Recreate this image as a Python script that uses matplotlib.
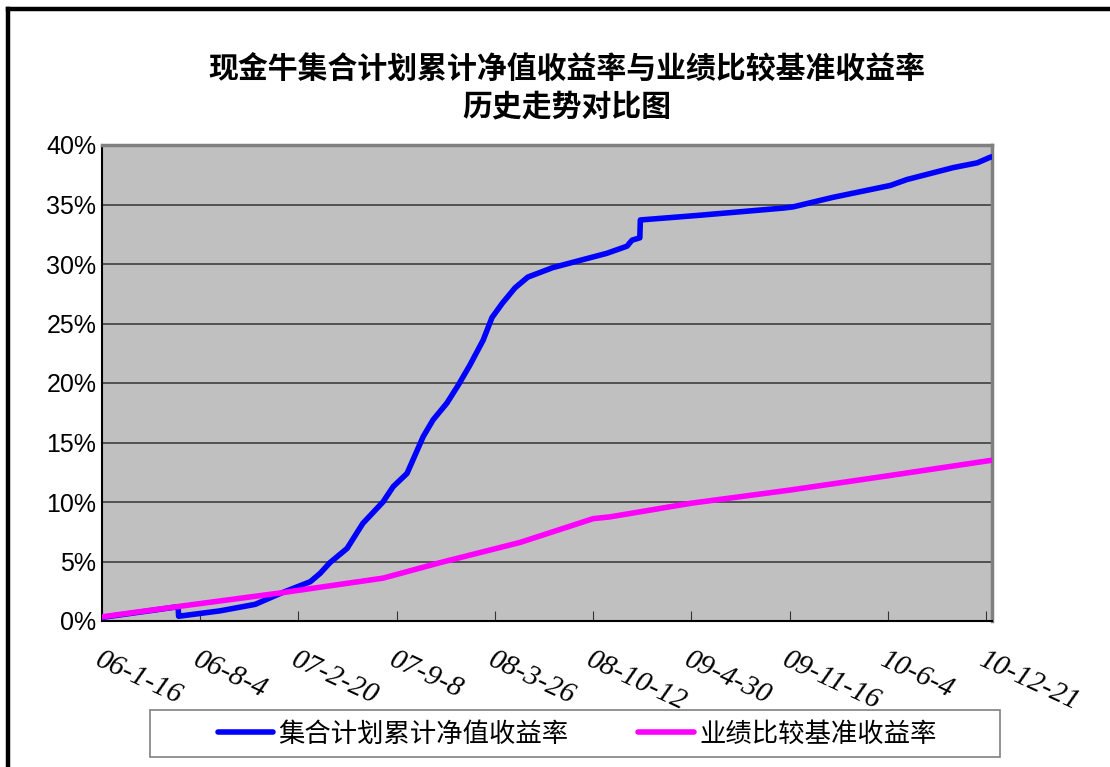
import numpy as np
import pandas as pd
import matplotlib
matplotlib.use('Agg')
import matplotlib.pyplot as plt
from matplotlib.lines import Line2D
from matplotlib.patches import Rectangle

plt.rcParams['font.family'] = ['Noto Sans CJK SC', 'DejaVu Sans']

# 集合计划累计净值收益率 (%)
fund_dates = ['2006-01-16', '2006-06-20', '2006-06-21', '2006-09-13', '2006-11-24',
              '2007-01-13', '2007-03-16', '2007-04-05', '2007-04-25', '2007-05-30',
              '2007-07-01', '2007-08-11', '2007-09-01', '2007-09-29', '2007-11-01',
              '2007-11-21', '2007-12-19', '2008-01-11', '2008-02-04', '2008-03-02',
              '2008-03-20', '2008-04-10', '2008-05-06', '2008-06-01', '2008-07-22',
              '2008-09-15', '2008-11-09', '2008-12-20', '2008-12-30', '2009-01-15',
              '2009-01-16', '2009-05-18', '2009-11-03', '2009-11-23', '2010-02-12',
              '2010-06-09', '2010-07-13', '2010-10-15', '2010-12-03', '2010-12-31']
fund_values = [0.3, 1.2, 0.4, 0.85, 1.4,
               2.3, 3.3, 4.0, 4.9, 6.1,
               8.2, 10.0, 11.3, 12.4, 15.5,
               16.9, 18.3, 19.8, 21.5, 23.6,
               25.5, 26.7, 28.0, 28.9, 29.7,
               30.3, 30.9, 31.5, 32.0, 32.2,
               33.7, 34.1, 34.7, 34.8, 35.6,
               36.6, 37.1, 38.1, 38.5, 39.0]

# 业绩比较基准收益率 (%)
bench_dates = ['2006-01-16', '2006-07-14', '2007-01-13', '2007-08-11', '2007-12-05',
               '2008-05-16', '2008-10-12', '2008-11-15', '2009-04-30', '2009-11-16',
               '2010-06-04', '2010-12-31']
bench_values = [0.35, 1.35, 2.35, 3.6, 4.9,
                6.6, 8.6, 8.75, 9.9, 11.0,
                12.2, 13.5]

tick_labels = ['06-1-16', '06-8-4', '07-2-20', '07-9-8', '08-3-26',
               '08-10-12', '09-4-30', '09-11-16', '10-6-4', '10-12-21']
y_ticks = [0, 5, 10, 15, 20, 25, 30, 35, 40]

fund_x = pd.to_datetime(fund_dates)
bench_x = pd.to_datetime(bench_dates)
tick_x = pd.to_datetime(tick_labels, format='%y-%m-%d')

W, H = 1110, 767
fig = plt.figure(figsize=(W / 100, H / 100), dpi=100)
ax = fig.add_axes([102 / W, 1 - 621 / H, 890 / W, 476 / H])
ax.set_facecolor('#C0C0C0')

ax.plot(fund_x, fund_values, color='#0000FF', lw=4, solid_joinstyle='round',
        solid_capstyle='round', label='集合计划累计净值收益率', zorder=3)
ax.plot(bench_x, bench_values, color='#FF00FF', lw=4, solid_joinstyle='round',
        solid_capstyle='round', label='业绩比较基准收益率', zorder=3)

ax.set_xlim(pd.Timestamp('2006-01-16'), pd.Timestamp('2011-01-02'))
ax.set_ylim(0, 40)
ax.set_yticks(y_ticks)
ax.set_yticklabels([f'{v}%' for v in y_ticks], family='Liberation Sans', fontsize=18)
ax.yaxis.grid(True, color='#333333', lw=1.1)
ax.set_axisbelow(True)
ax.tick_params(axis='y', length=0, pad=4)

ax.set_xticks(tick_x)
ax.set_xticklabels(tick_labels)
ax.tick_params(axis='x', direction='in', length=7, color='#333333', pad=0)
for lab in ax.get_xticklabels():
    lab.set_family(['Liberation Serif', 'DejaVu Serif'])
    lab.set_style('italic')
    lab.set_fontsize(21)
    lab.set_rotation(-25)
    lab.set_rotation_mode('anchor')
    lab.set_ha('left')
    lab.set_va('top')
    lab.set_y(-0.055)

for s in ['top', 'right']:
    ax.spines[s].set_color('#808080')
    ax.spines[s].set_linewidth(2.5)
for s in ['left', 'bottom']:
    ax.spines[s].set_color('black')
    ax.spines[s].set_linewidth(1.5)

fig.text(567 / W, 1 - 70 / H, '现金牛集合计划累计净值收益率与业绩比较基准收益率',
         ha='center', va='center', fontsize=21.5, fontweight='bold')
fig.text(567 / W, 1 - 106 / H, '历史走势对比图',
         ha='center', va='center', fontsize=21.5, fontweight='bold')

# legend box
fig.add_artist(Rectangle((150 / W, 1 - 757 / H), 850 / W, 47 / H, transform=fig.transFigure,
                         facecolor='white', edgecolor='#808080', lw=1.2))
leg = fig.legend(loc='center', bbox_to_anchor=(577 / W, 1 - 734 / H), ncol=2,
                 fontsize=19, frameon=False, handlelength=2.1,
                 columnspacing=2.65, handletextpad=0.2)

# outer chart border (left and top edges visible)
fig.add_artist(Line2D([8 / W, 8 / W], [0, 1 - 9 / H], color='black', lw=3.2))
fig.add_artist(Line2D([8 / W, 1], [1 - 9 / H, 1 - 9 / H], color='black', lw=3.2))

fig.savefig('out.png', dpi=100)
